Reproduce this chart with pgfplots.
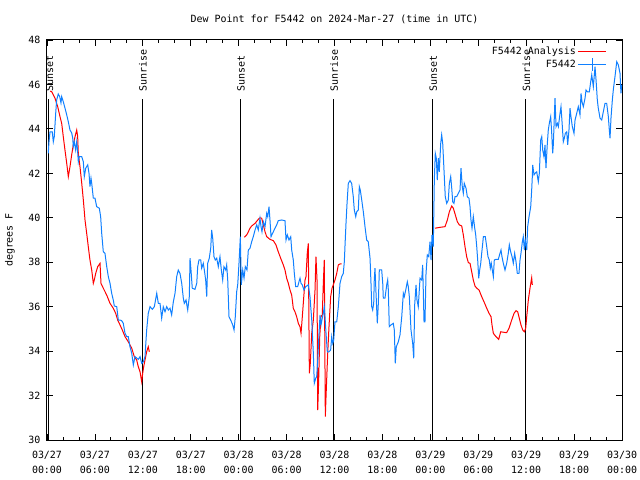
\documentclass[border=0pt]{standalone}
\usepackage{fontspec}
\setmainfont{DejaVu Sans Mono}
\usepackage{pgfplots}
\pgfplotsset{compat=1.18}
\definecolor{obsblue}{RGB}{16,128,255}
\begin{document}
\fontsize{10}{12}\selectfont
\begin{tikzpicture}
\begin{axis}[
 scale only axis, width=575bp, height=400bp,
 xmin=0, xmax=72, ymin=30, ymax=48,
 xtick={0,6,...,72}, minor x tick num=2,
 ytick={30,32,...,48},
 tick align=inside, tick pos=both,
 major tick length=6bp, minor tick length=3bp,
 every tick/.style={black, line width=0.8bp},
 axis line style={line width=1bp},
 xticklabels={{03/27\\00:00},{03/27\\06:00},{03/27\\12:00},{03/27\\18:00},{03/28\\00:00},{03/28\\06:00},{03/28\\12:00},{03/28\\18:00},{03/29\\00:00},{03/29\\06:00},{03/29\\12:00},{03/29\\18:00},{03/30\\00:00}},
 xticklabel style={align=center, anchor=north, font=\fontsize{10}{15}\selectfont, inner sep=0pt, yshift=-10.5bp},
 yticklabel style={xshift=-3bp},
 /pgf/number format/assume math mode=true,
 title={Dew Point for F5442 on 2024-Mar-27 (time in UTC)},
 title style={at={(axis description cs:0.5,1.03)}, anchor=base},
 ylabel={degrees F},
 ylabel style={at={(axis description cs:-0.0643,0.5)}, anchor=center},
 legend plot pos=right, legend cell align=right,
 legend style={at={(axis description cs:1,1)}, anchor=north east, xshift=-12bp, yshift=-3bp, draw=none, fill=none, row sep=-1bp, font=\fontsize{10}{10}\selectfont},
 legend image code/.code={\draw[red, line width=1bp] (4bp,0bp) -- (32bp,0bp);},
]
% sunrise / sunset lines
\addplot[black, line width=1bp, forget plot] coordinates {(0.22,30) (0.22,45.35)};
\addplot[black, line width=1bp, forget plot] coordinates {(11.90,30) (11.90,45.35)};
\addplot[black, line width=1bp, forget plot] coordinates {(24.18,30) (24.18,45.35)};
\addplot[black, line width=1bp, forget plot] coordinates {(35.85,30) (35.85,45.35)};
\addplot[black, line width=1bp, forget plot] coordinates {(48.25,30) (48.25,45.35)};
\addplot[black, line width=1bp, forget plot] coordinates {(59.94,30) (59.94,45.35)};

% analysis (red)
\addplot[red, line width=1bp, mark=none, unbounded coords=jump] table {
h v
0.40 45.70
0.59 45.67
1.00 45.38
1.34 45.00
1.63 44.55
1.84 44.25
2.04 43.65
2.25 43.05
2.47 42.45
2.67 41.85
2.88 42.30
3.09 42.83
3.29 43.28
3.51 43.65
3.72 43.95
3.84 43.65
3.92 42.90
4.13 42.30
4.35 41.55
4.55 40.80
4.76 39.90
4.97 39.30
5.17 38.70
5.38 38.10
5.60 37.65
5.80 37.05
5.92 37.20
6.10 37.50
6.35 37.80
6.64 37.95
6.76 37.05
7.05 36.83
7.48 36.52
7.89 36.15
8.30 35.93
8.60 35.70
8.85 35.40
9.14 35.18
9.43 34.95
9.77 34.65
10.18 34.42
10.61 34.13
10.93 33.75
11.23 33.60
11.43 33.30
11.65 33.07
11.86 32.62
11.98 33.00
12.11 33.30
12.27 33.60
12.48 33.97
12.68 34.20
12.81 33.97
18.00 nan
24.71 39.12
25.01 39.23
25.21 39.37
25.42 39.53
25.63 39.63
26.05 39.75
26.46 39.93
26.67 40.00
26.88 39.98
27.09 39.68
27.30 39.37
27.51 39.15
27.92 39.03
28.34 38.97
28.67 38.78
28.96 38.47
29.26 38.18
29.59 37.88
29.80 37.65
30.01 37.28
30.22 37.05
30.43 36.75
30.64 36.52
30.84 35.93
31.05 35.77
31.26 35.55
31.47 35.25
31.68 35.10
31.81 34.80
31.97 35.55
32.14 36.38
32.31 37.20
32.43 37.35
32.59 38.40
32.72 38.85
32.85 33.00
32.97 33.45
33.15 34.80
33.35 35.40
33.56 36.75
33.68 38.25
33.81 37.20
33.90 31.35
34.02 32.70
34.15 34.65
34.31 35.55
34.47 35.63
34.60 37.05
34.72 38.10
34.85 31.05
34.97 32.25
35.15 33.90
35.31 35.10
35.52 36.45
35.69 36.83
35.85 36.98
36.06 37.20
36.28 37.50
36.48 37.88
36.69 37.92
36.90 37.92
42.00 nan
48.59 39.53
49.21 39.57
49.84 39.60
50.13 39.90
50.38 40.27
50.68 40.53
50.88 40.43
51.13 40.13
51.38 39.82
51.63 39.68
51.93 39.63
52.13 39.23
52.34 38.70
52.55 38.25
52.76 37.98
52.97 37.95
53.18 37.57
53.38 37.20
53.59 36.93
53.81 36.83
54.10 36.75
54.43 36.45
54.72 36.22
55.06 35.93
55.35 35.70
55.60 35.55
55.72 35.18
55.89 34.80
56.22 34.65
56.56 34.53
56.81 34.87
57.14 34.85
57.56 34.83
57.85 35.03
58.19 35.40
58.48 35.70
58.73 35.82
58.94 35.77
59.14 35.48
59.35 35.18
59.57 34.95
59.77 34.87
59.94 35.03
60.07 35.55
60.27 36.30
60.48 36.83
60.69 37.30
60.77 36.98
};
\addlegendentry{F5442 Analysis}

% observations (blue)
\addplot[obsblue, line width=1bp, mark=none,
 legend image code/.code={\draw[obsblue, line width=1bp] (4bp,0bp) -- (32bp,0bp); \draw[obsblue, line width=1bp] (18bp,-6.5bp) -- (18bp,6.5bp);}] table {
h v
0.16 42.90
0.25 43.42
0.38 43.87
0.66 43.87
0.79 43.42
0.91 43.65
1.09 44.70
1.21 45.30
1.41 45.57
1.59 45.45
1.75 45.17
1.84 45.45
2.04 45.22
2.25 44.94
2.47 44.63
2.67 44.32
2.88 43.95
3.09 43.82
3.22 43.59
3.29 43.20
3.42 43.42
3.59 43.05
3.72 43.42
3.84 42.97
3.92 42.52
4.04 42.75
4.35 42.75
4.55 42.52
4.67 41.85
4.85 42.23
5.10 42.38
5.26 42.00
5.38 41.40
5.51 41.78
5.60 41.55
5.80 40.88
6.01 40.88
6.22 40.50
6.55 40.43
6.72 40.05
6.85 39.30
7.05 38.47
7.26 38.40
7.48 37.80
7.68 37.35
7.89 37.05
8.10 36.60
8.30 36.30
8.43 36.03
8.73 36.00
8.93 35.40
9.14 35.40
9.35 35.37
9.55 35.25
9.77 34.80
9.98 34.65
10.18 34.65
10.39 34.20
10.61 33.90
10.81 33.38
11.02 33.75
11.43 33.63
11.65 33.75
11.86 33.45
12.06 33.52
12.27 33.75
12.48 34.95
12.68 35.70
12.90 36.00
13.19 35.88
13.44 36.00
13.74 36.60
13.94 36.15
14.15 36.15
14.36 35.48
14.56 36.00
14.78 35.77
14.99 36.00
15.19 35.85
15.40 35.93
15.61 35.63
15.82 36.22
16.03 36.60
16.24 37.35
16.44 37.65
16.65 37.50
16.87 37.05
17.07 36.38
17.19 36.15
17.41 36.30
17.62 35.85
17.82 36.45
17.91 38.18
18.03 37.65
18.19 36.83
18.53 36.78
18.75 37.05
18.87 37.80
19.03 38.10
19.25 38.10
19.37 37.73
19.57 37.95
19.70 37.65
19.87 37.20
20.00 36.45
20.12 37.95
20.32 38.18
20.50 38.63
20.62 39.45
20.75 39.08
20.91 38.25
21.07 38.10
21.25 38.18
21.45 37.80
21.66 38.25
21.83 37.65
22.00 37.20
22.16 37.80
22.38 37.65
22.50 37.88
22.63 37.20
22.79 35.55
23.00 35.40
23.25 35.18
23.42 34.95
23.58 35.55
23.75 36.67
23.88 36.98
24.04 37.95
24.21 39.15
24.33 36.98
24.51 37.65
24.67 37.28
24.83 37.80
25.04 37.65
25.21 38.55
25.42 38.63
25.63 38.92
25.83 39.15
26.05 39.45
26.26 39.68
26.46 39.45
26.67 39.98
26.80 39.60
26.92 39.37
27.09 39.82
27.30 39.60
27.51 40.20
27.64 40.05
27.80 40.50
27.92 39.90
28.05 39.15
28.34 39.37
28.55 39.53
28.76 39.68
28.96 39.87
29.39 39.90
29.80 39.87
29.93 39.00
30.09 39.23
30.30 39.00
30.52 39.15
30.64 38.55
30.84 38.10
30.97 37.50
31.14 36.90
31.39 36.90
31.55 37.12
31.68 37.28
31.81 37.05
31.97 36.98
32.18 36.75
32.39 36.90
32.72 36.98
32.93 36.45
33.15 35.40
33.35 33.90
33.47 32.55
33.65 32.78
33.77 32.85
33.90 33.60
34.06 34.80
34.19 35.63
34.31 35.18
34.47 35.48
34.60 35.70
34.72 36.00
34.81 35.55
34.94 34.80
35.10 33.97
35.31 33.97
35.52 34.05
35.65 34.65
35.78 34.35
35.90 34.50
36.06 35.32
36.28 35.32
36.48 36.00
36.69 37.05
36.90 37.35
37.10 37.50
37.23 38.02
37.32 38.78
37.44 39.75
37.57 40.65
37.73 41.55
37.94 41.67
38.15 41.55
38.35 40.95
38.48 40.35
38.66 40.05
38.78 40.27
38.98 40.35
39.11 41.40
39.23 41.25
39.41 40.80
39.61 40.27
39.82 39.60
40.03 39.00
40.23 38.92
40.45 38.18
40.57 37.05
40.66 36.00
40.78 35.85
40.91 36.15
40.98 37.20
41.07 37.73
41.20 36.60
41.36 35.25
41.49 36.15
41.61 37.65
41.91 37.65
42.04 37.05
42.11 36.38
42.32 36.38
42.54 36.98
42.66 37.20
42.74 36.75
42.86 35.10
43.08 35.18
43.36 35.25
43.49 34.95
43.61 33.45
43.74 34.20
43.99 34.42
44.20 34.73
44.42 35.55
44.62 36.60
44.74 36.45
44.92 36.75
45.12 37.12
45.24 36.90
45.37 36.45
45.58 34.95
45.79 34.35
45.92 33.68
46.04 36.08
46.21 36.98
46.33 36.30
46.49 36.00
46.71 37.28
46.92 37.20
47.04 37.88
47.21 35.32
47.33 35.32
47.46 37.50
47.62 38.33
47.80 38.25
47.96 38.92
48.09 38.10
48.21 39.23
48.37 38.70
48.50 41.70
48.62 42.90
48.75 42.68
48.87 41.70
49.00 42.68
49.12 42.07
49.30 43.35
49.42 43.73
49.55 43.35
49.71 42.15
49.87 40.95
50.05 40.65
50.25 40.80
50.38 41.55
50.55 41.85
50.68 41.33
50.80 40.72
50.96 40.65
51.09 40.95
51.30 40.95
51.50 41.10
51.72 41.25
51.84 42.23
52.00 41.40
52.13 41.10
52.25 41.55
52.47 41.33
52.63 40.95
52.84 40.88
52.97 40.50
53.09 39.90
53.22 39.53
53.38 40.05
53.56 39.53
53.68 39.23
53.81 38.70
53.93 38.10
54.06 37.28
54.18 37.65
54.31 37.95
54.43 38.40
54.56 38.85
54.64 39.15
54.88 39.15
55.06 38.70
55.22 38.25
55.38 38.10
55.51 37.73
55.63 37.95
55.76 37.65
55.89 37.35
56.01 38.10
56.22 38.13
56.51 38.13
56.72 38.40
56.85 38.55
56.97 38.25
57.14 37.95
57.35 37.65
57.56 37.95
57.76 38.40
57.89 38.78
58.06 38.47
58.23 38.25
58.39 37.95
58.56 38.40
58.73 38.02
58.89 37.50
59.10 37.50
59.23 38.10
59.35 38.40
59.52 38.92
59.64 39.15
59.77 38.55
59.89 39.00
60.07 38.55
60.19 39.60
60.36 40.05
60.57 40.50
60.69 41.25
60.77 41.85
60.82 42.38
60.98 41.93
61.11 42.00
61.32 42.07
61.52 41.62
61.65 42.00
61.82 43.50
61.95 43.65
62.07 43.05
62.23 42.75
62.36 43.28
62.48 42.23
62.65 43.35
62.77 43.95
62.90 44.25
63.07 44.55
63.20 43.80
63.32 42.90
63.40 43.28
63.61 45.38
63.74 44.10
63.90 44.25
64.03 44.10
64.24 44.70
64.36 45.00
64.49 44.32
64.65 43.42
64.78 43.58
64.90 43.80
65.08 43.87
65.20 43.28
65.36 43.95
65.49 44.93
65.61 44.55
65.78 44.10
65.99 43.80
66.12 44.40
66.33 44.70
66.53 45.00
66.74 44.63
66.87 45.60
66.99 45.22
67.16 45.00
67.37 45.38
67.49 45.75
67.66 45.67
67.91 45.67
68.08 46.12
68.21 46.43
68.41 45.90
68.62 46.80
68.75 46.20
68.91 45.30
69.03 44.93
69.25 44.48
69.46 44.40
69.66 44.77
69.87 45.15
70.08 45.15
70.29 44.55
70.41 43.95
70.50 43.58
70.62 44.48
70.79 45.30
70.91 45.75
71.12 46.35
71.34 47.02
71.54 46.88
71.75 46.50
71.87 45.60
71.96 45.98
};
\addlegendentry{F5442}

\node[rotate=90, anchor=west, inner sep=0pt] at (axis cs:0.30,45.66) {Sunset};
\node[rotate=90, anchor=west, inner sep=0pt] at (axis cs:12.0,45.66) {Sunrise};
\node[rotate=90, anchor=west, inner sep=0pt] at (axis cs:24.28,45.66) {Sunset};
\node[rotate=90, anchor=west, inner sep=0pt] at (axis cs:35.95,45.66) {Sunrise};
\node[rotate=90, anchor=west, inner sep=0pt] at (axis cs:48.35,45.66) {Sunset};
\node[rotate=90, anchor=west, inner sep=0pt] at (axis cs:60.04,45.66) {Sunrise};
\end{axis}
\pgfresetboundingbox
\path (current axis.south west) ++(-47bp,-40bp) rectangle ++(640bp,480bp);
\end{tikzpicture}
\end{document}
